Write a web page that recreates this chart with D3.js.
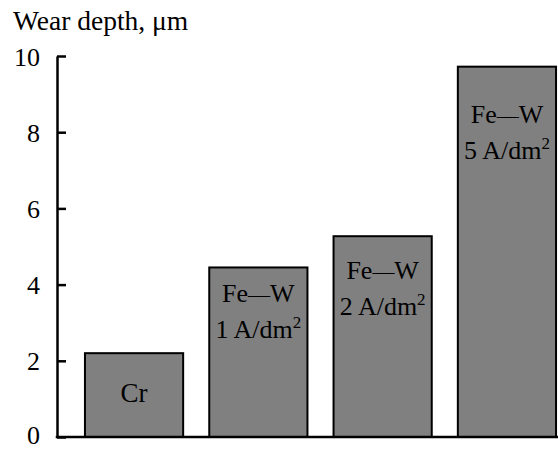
<!DOCTYPE html>
<html>
<head>
<meta charset="utf-8">
<script src="https://cdn.jsdelivr.net/npm/d3@7"></script>
<style>
	body { margin: 0; background: #fff; }
	svg text { font-family: "Liberation Serif", "Times New Roman", serif; fill: #000; }
</style>
</head>
<body>
<svg width="558" height="449"></svg>
<script>
// coatings and their wear depth, um
var coatings = ["Cr", "Fe", "Fe", "Fe"];
var alloyed = ["", "W", "W", "W"];
var currentDensity = ["", "1", "2", "5"]; // A/dm2
var wearDepth = [2.2, 4.45, 5.27, 9.72];
var yTicks = [0, 2, 4, 6, 8, 10];

// where the first label line sits under the bar top (px)
var labelDy = [49, 35, 43, 56];

var svg = d3.select("svg"),
	width = +svg.attr("width"),
	height = +svg.attr("height");

var x0 = 57, yBase = 437;

var x = d3.scaleBand()
	.domain(d3.range(wearDepth.length))
	.range([x0, 584])
	.paddingInner(0.21)
	.paddingOuter(0.225);

var y = d3.scaleLinear()
	.domain([0, 10])
	.range([yBase, 56]);

// bars
svg.append("g")
	.selectAll("rect")
	.data(wearDepth)
	.enter().append("rect")
	.attr("x", function (d, i) { return x(i); })
	.attr("y", function (d) { return y(d); })
	.attr("width", x.bandwidth())
	.attr("height", function (d) { return y(0) - y(d); })
	.style("fill", "#808080")
	.style("stroke", "#000")
	.style("stroke-width", 2);

// y axis, ticks pointing inside
var yAxis = svg.append("g")
	.attr("transform", "translate(" + x0 + ",0)")
	.call(d3.axisLeft(y)
		.tickValues(yTicks)
		.tickSizeInner(-9)
		.tickSizeOuter(0)
		.tickPadding(17));

yAxis.select(".domain").style("stroke", "#000").style("stroke-width", 2.5);
yAxis.selectAll(".tick line").style("stroke", "#000").style("stroke-width", 2.5);
yAxis.selectAll(".tick text")
	.attr("font-family", null)
	.attr("font-size", null)
	.attr("fill", null)
	.style("font-size", "26px")
	.attr("dy", function (d) { return d === 0 ? "0.25em" : "0.35em"; });

// baseline
svg.append("line")
	.attr("x1", x0 - 1.25)
	.attr("x2", width)
	.attr("y1", y(0))
	.attr("y2", y(0))
	.style("stroke", "#000")
	.style("stroke-width", 2.5);

// axis title
svg.append("text")
	.attr("x", 13)
	.attr("y", 30)
	.style("font-size", "27.5px")
	.text("Wear depth, \u03bcm");

// labels inside bars
var labels = svg.append("g")
	.selectAll("text")
	.data(wearDepth)
	.enter().append("text")
	.attr("text-anchor", "middle")
	.attr("transform", function (d, i) {
		return "translate(" + (x(i) + x.bandwidth() / 2) + "," + (y(d) + labelDy[i]) + ")";
	})
	.style("font-size", "26px");

labels.append("tspan")
	.attr("x", 0)
	.text(function (d, i) { return coatings[i]; });

labels.each(function (d, i) {
	if (currentDensity[i] === "") {
		d3.select(this).style("font-size", "27px");
		return;
	}
	var t = d3.select(this);
	t.append("tspan")
		.style("font-size", "22px")
		.text("\u2014");
	t.append("tspan")
		.text(alloyed[i]);
	t.append("tspan")
		.attr("x", 0)
		.attr("dy", 36)
		.text(currentDensity[i] + "\u2009A/dm");
	t.append("tspan")
		.attr("dy", -10)
		.style("font-size", "17px")
		.text("2");
});
</script>
</body>
</html>
